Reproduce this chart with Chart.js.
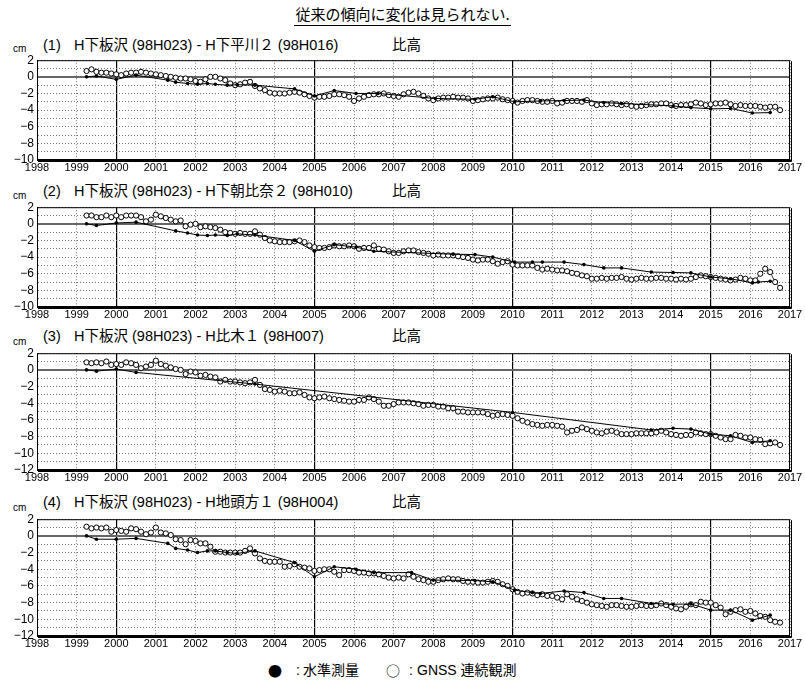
<!DOCTYPE html>
<html>
<head>
<meta charset="utf-8">
<script src="https://cdn.jsdelivr.net/npm/chart.js@4.4.1/dist/chart.umd.min.js"></script>
<style>
  body { margin: 0; width: 805px; height: 682px; background: #fff; position: relative; overflow: hidden;
         font-family: "Liberation Sans", "Noto Sans CJK JP", sans-serif; color: #000; }
  .txt { position: absolute; white-space: nowrap; }
  .ttl { font-size: 14.5px; line-height: 18px; }
  .ttl .n { display: inline-block; width: 31px; }
  .cm { font-size: 10px; }
  .lg { position: absolute; top: 661px; font-size: 14px; line-height: 18px; white-space: nowrap; }
  .mk { font-family: "Noto Sans CJK JP", sans-serif; font-size: 14px; }
  canvas { position: absolute; left: 0; }
</style>
</head>
<body>

<div class="txt" style="left:0;width:805px;top:3px;text-align:center;font-size:15px;">
  <span style="border-bottom:1px solid #000;padding:0 1px 1px 1px;font-family:'Noto Sans CJK JP',sans-serif;">従来の傾向に変化は見られない.</span>
</div>

<div class="txt ttl" style="left:43px;top:36px;"><span class="n">(1)</span>H下板沢 (98H023) - H下平川２ (98H016)</div>
<div class="txt ttl" style="left:392px;top:36px;">比高</div>
<div class="txt cm" style="left:13px;top:43px;">cm</div>
<canvas id="c1" width="805" height="128" style="top:50px"></canvas>

<div class="txt ttl" style="left:43px;top:182px;"><span class="n">(2)</span>H下板沢 (98H023) - H下朝比奈２ (98H010)</div>
<div class="txt ttl" style="left:392px;top:182px;">比高</div>
<div class="txt cm" style="left:13px;top:190px;">cm</div>
<canvas id="c2" width="805" height="128" style="top:197px"></canvas>

<div class="txt ttl" style="left:43px;top:327px;"><span class="n">(3)</span>H下板沢 (98H023) - H比木１ (98H007)</div>
<div class="txt ttl" style="left:392px;top:327px;">比高</div>
<div class="txt cm" style="left:13px;top:336px;">cm</div>
<canvas id="c3" width="805" height="145" style="top:343px"></canvas>

<div class="txt ttl" style="left:43px;top:493px;"><span class="n">(4)</span>H下板沢 (98H023) - H地頭方１ (98H004)</div>
<div class="txt ttl" style="left:392px;top:493px;">比高</div>
<div class="txt cm" style="left:13px;top:502px;">cm</div>
<canvas id="c4" width="805" height="145" style="top:509px"></canvas>

<div class="lg mk" style="left:268px;">●</div>
<div class="lg" style="left:296px;">:</div>
<div class="lg" style="left:303px;">水準測量</div>
<div class="lg mk" style="left:386px;">○</div>
<div class="lg" style="left:409px;">:</div>
<div class="lg" style="left:417px;">GNSS 連続観測</div>

<script>
// GNSS series: one value every 1/8 year starting 1999.25
let gnssStart = 1999.25;
let gnssStep = 0.125;

let gnss1 = [
  0.7, 0.9, 0.6, 0.5, 0.5, 0.4,
  0.3, 0.2, 0.4, 0.5, 0.5, 0.6, 0.5, 0.4,
  0.3, 0.2, 0.1, 0.0, -0.1, -0.2, -0.2, -0.3,
  -0.5, -0.6, -0.3, 0.0, 0.0, -0.2, -0.4, -0.8,
  -1.0, -0.9, -0.7, -0.6, -1.1, -1.4, -1.6, -1.9,
  -2.0, -2.0, -2.0, -1.9, -1.8, -1.9, -2.1, -2.3,
  -2.5, -2.4, -2.4, -2.3, -2.1, -2.1, -2.2, -2.4,
  -2.9, -2.6, -2.4, -2.2, -2.1, -2.1, -2.0, -2.2,
  -2.3, -2.4, -2.1, -1.9, -1.8, -2.0, -2.3, -2.6,
  -2.8, -2.6, -2.5, -2.5, -2.4, -2.5, -2.5, -2.6,
  -2.9, -2.8, -2.7, -2.6, -2.6, -2.5, -2.7, -2.8,
  -2.9, -3.1, -2.9, -2.8, -2.8, -2.9, -3.0, -3.0,
  -2.9, -3.2, -3.1, -2.9, -2.9, -2.9, -3.0, -2.8,
  -3.2, -3.4, -3.3, -3.3, -3.2, -3.3, -3.4, -3.3,
  -3.5, -3.6, -3.5, -3.4, -3.3, -3.3, -3.2, -3.2,
  -3.4, -3.5, -3.4, -3.4, -3.3, -3.1, -3.2, -3.4,
  -3.3, -3.2, -3.2, -3.1, -3.3, -3.5, -3.4, -3.5,
  -3.5, -3.5, -3.6, -3.7, -3.6, -3.6, -4.0
];
let gnss2 = [
  1.0, 1.0, 0.8, 0.8, 1.0, 0.8,
  1.0, 0.8, 1.0, 1.0, 1.0, 0.8, 0.3, 0.5,
  1.1, 0.9, 0.7, 0.5, 0.3, 0.4, -0.3, -0.1,
  0.0, -0.4, -0.3, -0.4, -0.5, -0.7, -1.0, -1.1,
  -1.2, -1.1, -1.2, -1.2, -0.9, -1.3, -1.7, -2.0,
  -2.1, -2.2, -2.2, -2.2, -2.1, -2.0, -2.2, -2.6,
  -2.8, -2.9, -2.9, -2.8, -2.6, -2.7, -2.7, -2.6,
  -2.7, -3.0, -2.9, -2.9, -2.6, -3.0, -3.1, -3.3,
  -3.5, -3.5, -3.3, -3.2, -3.2, -3.4, -3.5, -3.6,
  -3.8, -3.7, -3.8, -3.8, -3.8, -3.9, -4.0, -4.1,
  -4.3, -4.4, -4.3, -4.3, -4.5, -4.8, -4.6, -4.5,
  -4.9, -5.0, -5.0, -5.0, -5.0, -5.3, -5.5, -5.4,
  -5.5, -5.6, -5.6, -5.7, -5.9, -6.0, -6.2, -6.3,
  -6.6, -6.6, -6.5, -6.6, -6.5, -6.5, -6.4, -6.6,
  -6.7, -6.6, -6.5, -6.6, -6.6, -6.5, -6.5, -6.6,
  -6.6, -6.7, -6.6, -6.7, -6.6, -6.4, -6.2, -6.3,
  -6.4, -6.5, -6.6, -6.7, -6.8, -6.7, -6.5, -6.6,
  -6.8, -6.8, -6.0, -5.4, -5.8, -7.0, -7.7
];
let gnss3 = [
  0.9, 0.8, 0.9, 0.8, 1.0, 0.6,
  0.7, 0.6, 0.9, 0.8, 0.6, 0.2, 0.4, 0.6,
  1.1, 0.7, 0.5, 0.3, 0.1, 0.0, -0.5, -0.2,
  -0.3, -0.7, -0.6, -0.8, -0.9, -1.4, -1.2, -1.4,
  -1.4, -1.5, -1.6, -1.5, -1.2, -1.8, -2.3, -2.4,
  -2.6, -2.5, -2.6, -2.8, -2.8, -2.7, -3.0, -3.3,
  -3.4, -3.3, -3.2, -3.4, -3.5, -3.6, -3.7, -3.8,
  -3.8, -3.6, -3.6, -3.3, -3.5, -3.8, -4.3, -4.3,
  -4.1, -3.9, -3.9, -3.9, -4.0, -4.1, -4.3, -4.2,
  -4.2, -4.4, -4.4, -4.6, -4.6, -5.0, -5.0, -5.1,
  -5.1, -5.1, -5.1, -5.3, -5.5, -5.4, -5.3, -5.4,
  -5.5, -5.8, -6.1, -6.3, -6.5, -6.6, -6.7, -6.6,
  -6.6, -6.7, -6.8, -7.5, -7.3, -7.2, -6.9, -7.1,
  -7.3, -7.5, -7.6, -7.4, -7.3, -7.5, -7.7, -7.7,
  -7.7, -7.6, -7.6, -7.6, -7.6, -7.5, -7.3, -7.5,
  -7.7, -7.8, -7.9, -7.8, -7.8, -7.5, -7.6, -7.7,
  -7.7, -7.9, -8.1, -8.3, -8.3, -7.8, -7.9, -8.1,
  -8.1, -8.3, -8.4, -8.9, -8.8, -8.7, -9.0
];
let gnss4 = [
  1.1, 0.9, 1.0, 0.9, 1.0, 0.5,
  0.7, 0.6, 0.5, 0.9, 0.8, 0.5, 0.2, 0.4,
  1.0, 0.4, 0.3, 0.1, -0.4, -0.5, -1.0, -0.5,
  -0.6, -0.9, -0.9, -1.3, -1.9, -1.9, -2.0, -2.0,
  -2.0, -2.0, -1.8, -1.5, -2.1, -2.7, -3.0, -3.1,
  -3.1, -3.1, -3.7, -3.6, -3.4, -3.7, -3.8, -3.9,
  -4.2, -4.1, -4.0, -4.0, -4.3, -4.7, -4.1, -4.1,
  -4.2, -4.4, -4.4, -4.5, -4.5, -4.6, -4.8, -5.0,
  -5.1, -5.0, -5.1, -4.6, -4.9, -5.2, -5.3, -5.5,
  -5.5, -5.3, -5.2, -5.1, -5.2, -5.2, -5.4, -5.5,
  -5.5, -5.6, -5.6, -5.5, -5.4, -5.5, -5.8, -6.0,
  -6.4, -6.7, -6.9, -6.8, -6.9, -7.1, -7.0, -7.2,
  -7.2, -7.4, -7.6, -7.0, -7.3, -7.6, -7.8, -8.0,
  -8.2, -8.3, -8.4, -8.5, -8.3, -8.3, -8.4, -8.5,
  -8.5, -8.4, -8.3, -8.4, -8.4, -8.3, -8.1, -8.3,
  -8.5, -8.7, -8.8, -8.5, -8.2, -8.3, -7.9, -8.0,
  -8.0, -8.3, -8.6, -9.4, -9.1, -8.9, -8.8, -9.1,
  -9.0, -9.3, -9.6, -9.7, -10.1, -10.3, -10.4
];

// levelling surveys (years and values)
let level1Years = [1999.25, 1999.5, 2000.0, 2000.5, 2001.3, 2001.5, 2001.8, 2002.05, 2002.3, 2002.5, 2002.8, 2003.05, 2003.5,
  2004.5, 2005.0, 2005.5, 2006.05, 2006.6, 2008.05, 2009.05, 2009.5, 2010.05, 2010.7, 2011.3, 2011.8, 2012.3, 2012.75,
  2014.05, 2014.5, 2015.0, 2015.5, 2016.05, 2016.5];
let level1 = [0.0, 0.1, -0.3, 0.2, -0.4, -0.65, -0.8, -0.9, -0.8, -0.9, -1.0, -0.95, -1.0,
  -1.45, -2.3, -1.65, -2.0, -2.0, -2.6, -2.7, -2.4, -3.0, -2.9, -2.85, -2.8, -3.1, -3.2,
  -3.5, -3.7, -3.85, -3.8, -4.35, -4.3];

let level2Years = [1999.25, 1999.5, 2000.0, 2000.5, 2001.5, 2001.8, 2002.05, 2002.3, 2002.5, 2002.8, 2003.05, 2003.5,
  2004.5, 2005.0, 2005.5, 2006.05, 2006.5, 2008.5, 2009.05, 2009.5, 2010.05, 2010.5, 2010.75, 2011.3, 2011.8, 2012.3, 2012.75,
  2013.5, 2014.05, 2014.5, 2015.0, 2015.5, 2016.05, 2016.2, 2016.5];
let level2 = [0.0, -0.2, 0.1, 0.2, -0.85, -1.1, -1.35, -1.4, -1.35, -1.4, -1.2, -1.35,
  -2.0, -3.3, -2.5, -2.8, -3.3, -3.65, -3.7, -4.0, -4.6, -4.6, -4.6, -4.6, -4.9, -5.3, -5.3,
  -5.8, -5.85, -5.9, -6.4, -6.6, -7.1, -7.0, -6.9];

let level3Years = [1999.25, 1999.5, 2000.0, 2000.5, 2003.5, 2010.0, 2013.5, 2014.05, 2014.5, 2015.0, 2015.5, 2016.05, 2016.5];
let level3 = [0.0, -0.15, 0.1, -0.3, -1.7, -5.1, -7.2, -7.0, -7.1, -7.7, -7.9, -8.7, -8.5];

let level4Years = [1999.25, 1999.5, 2000.0, 2000.5, 2001.3, 2001.5, 2001.8, 2002.05, 2002.3, 2002.5, 2002.8, 2003.05, 2003.5,
  2004.5, 2005.0, 2005.5, 2006.05, 2006.5, 2007.45, 2008.0, 2009.05, 2009.5, 2010.05, 2010.5, 2010.7, 2011.3, 2011.8, 2012.3, 2012.75,
  2013.5, 2014.05, 2014.5, 2015.0, 2015.5, 2016.05, 2016.5];
let level4 = [0.0, -0.4, -0.4, -0.3, -0.9, -1.5, -1.7, -2.0, -1.8, -1.8, -2.0, -2.1, -1.8,
  -3.2, -4.9, -3.7, -4.0, -4.4, -4.4, -5.3, -5.35, -5.5, -6.5, -6.8, -6.9, -6.6, -6.8, -7.5, -7.5,
  -8.1, -8.2, -8.15, -8.9, -8.9, -10.1, -9.5];

let yearMin = 1998;
let yearMax = 2017;
let boldYears = [2000, 2005, 2010, 2015];

let frame = {
  id: "frame",
  afterDatasetsDraw(chart) {
    let a = chart.chartArea;
    let ctx = chart.ctx;
    ctx.save();
    ctx.strokeStyle = "#000";
    ctx.lineWidth = 1;
    ctx.strokeRect(a.left + 0.5, a.top + 0.5, a.right - a.left - 1, a.bottom - a.top - 1);
    ctx.beginPath();
    ctx.moveTo(a.right + 1.5, a.top + 1);
    ctx.lineTo(a.right + 1.5, a.bottom + 1.5);
    ctx.lineTo(a.left + 1, a.bottom + 1.5);
    ctx.stroke();
    ctx.restore();
  }
};

function makeChart(id, gnss, lvYears, lv, yMin) {
  let gnssPoints = gnss.map((v, i) => ({ x: gnssStart + i * gnssStep, y: v }));
  let lvPoints = lv.map((v, i) => ({ x: lvYears[i], y: v }));

  return new Chart(document.getElementById(id), {
    type: "line",
    data: {
      datasets: [
        {
          label: "水準測量",
          data: lvPoints,
          borderColor: "#000",
          borderWidth: 1,
          pointRadius: 1.8,
          pointBackgroundColor: "#000",
          pointBorderWidth: 0,
          tension: 0,
          order: 0
        },
        {
          label: "GNSS 連続観測",
          data: gnssPoints,
          borderColor: "#000",
          borderWidth: 0.8,
          pointRadius: 2.6,
          pointBackgroundColor: "#fff",
          pointBorderColor: "#000",
          pointBorderWidth: 1,
          tension: 0,
          order: 1
        }
      ]
    },
    options: {
      responsive: false,
      animation: false,
      devicePixelRatio: 1,
      layout: { padding: { top: 6, right: 15, left: 0, bottom: 0 } },
      plugins: { legend: { display: false }, tooltip: { enabled: false } },
      scales: {
        x: {
          type: "linear",
          min: yearMin,
          max: yearMax,
          afterFit: s => { s.height = 18; },
          ticks: {
            stepSize: 1,
            autoSkip: false,
            maxRotation: 0,
            padding: 1,
            color: "#000",
            font: { family: "Liberation Sans", size: 11 },
            callback: v => String(v)
          },
          grid: {
            drawTicks: false,
            color: c => boldYears.includes(c.tick.value) ? "#000" : "#777",
            lineWidth: c => boldYears.includes(c.tick.value) ? 1.2 : 1
          },
          border: {
            color: "#000",
            width: 1,
            dash: c => (c.tick && !boldYears.includes(c.tick.value)) ? [1, 2] : []
          }
        },
        y: {
          min: yMin,
          max: 2,
          afterFit: s => { s.width = 37; },
          ticks: {
            stepSize: 1,
            autoSkip: false,
            padding: 3,
            color: "#000",
            font: { family: "Liberation Sans", size: 12 },
            callback: v => v % 2 === 0 ? (v < 0 ? "−" + (-v) : String(v)) : ""
          },
          grid: {
            drawTicks: false,
            color: c => c.tick.value === 0 ? "#666" : "#777",
            lineWidth: c => c.tick.value === 0 ? 2 : 1
          },
          border: {
            color: "#000",
            width: 1,
            dash: c => (c.tick && c.tick.value !== 0) ? [1, 2] : []
          }
        }
      }
    },
    plugins: [frame]
  });
}

makeChart("c1", gnss1, level1Years, level1, -10);
makeChart("c2", gnss2, level2Years, level2, -10);
makeChart("c3", gnss3, level3Years, level3, -12);
makeChart("c4", gnss4, level4Years, level4, -12);
</script>
</body>
</html>
